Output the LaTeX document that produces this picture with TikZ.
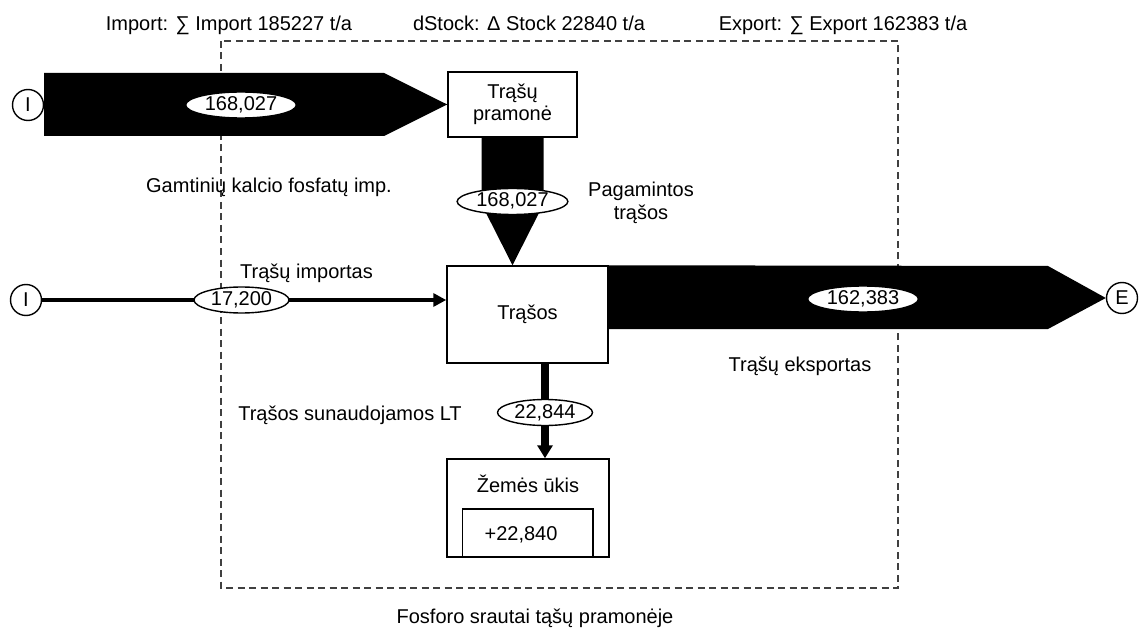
\documentclass[tikz,border=0pt]{standalone}
\usepackage{fontspec}
\setmainfont{Liberation Sans}
\usetikzlibrary{arrows.meta,shapes.geometric}
\begin{document}
\begin{tikzpicture}[x=1pt,y=-1pt,
  every node/.style={font=\fontsize{20pt}{22pt}\selectfont, text=black},
  box/.style={draw, line width=1.5pt, fill=white, inner sep=0pt},
  val/.style={ellipse, draw, line width=1.4pt, fill=white, inner xsep=3pt,
    inner ysep=0pt, text height=14pt, text depth=3pt, minimum height=26pt},
  endpt/.style={circle, draw, line width=1.4pt, fill=white, inner sep=0pt,
    minimum size=31pt},
  flow/.style={fill=black},
  lbl/.style={anchor=base},
  border/.style={dash pattern=on 7pt off 4.5pt, line width=1.5pt, draw=black!75}
]
\useasboundingbox (0,0) rectangle (1142,628);

% system boundary
\draw[border] (221,41) rectangle (898,588);

% processes
\node[box, minimum width=129pt, minimum height=65pt, align=center] (pram) at (512.5,104.5) {Trąšų\\pramonė};
\node[box, minimum width=161pt, minimum height=97pt] (tras) at (527.5,314.5) {Trąšos};
\node[box, minimum width=162pt, minimum height=98pt] (zem) at (528,508) {};
\node[lbl] (zemT) at (zem.north |- 0,492) {Žemės ūkis};
\draw[line width=1.5pt] ([xshift=16pt]zem.south west) |- (593,509) -- (593,557);
\node[lbl] (stock) at (521,540) {+22,840};

% import / export ends
\node[endpt] (I1) at (28,105) {I};
\node[endpt] (I2) at (26,300) {I};
\node[endpt] (E) at (1122,298) {E};

% wide flows
\fill[flow] (I1.east |- 0,73) -- (384,73) -- (pram.west) -- (384,136) -- (I1.east |- 0,136) -- cycle;
\fill[flow] ([xshift=-31pt]pram.south) -- (481.5,204) -- (tras.north -| pram.south) -- (543.5,204) -- ([xshift=31pt]pram.south) -- cycle;
\fill[flow] (tras.north east) -- (1048,266) -- (E.west) -- (1048,329) -- (tras.east |- 0,329) -- cycle;

% narrow flows
\draw[line width=4pt, -{Triangle[length=13pt,width=13pt]}] (I2.east) -- (I2.east -| tras.west);
\coordinate (c844) at (545,412.5);
\draw[line width=8pt, -{Triangle[length=13pt,width=15pt]}] (tras.south -| c844) -- (zem.north -| c844);

% flow values
\node[val] (v1) at (241,105) {168,027};
\node[val] (v2) at (pram.south |- 0,201.5) {168,027};
\node[val] (v3) at (241.5,300) {17,200};
\node[val] (v4) at (863,299) {162,383};
\node[val] (v5) at (c844) {22,844};

% labels
\node[lbl] (tImp) at (229,30.5) {Import: ∑ Import 185227 t/a};
\node[lbl] (tSt) at (529,30.5) {dStock: Δ Stock 22840 t/a};
\node[lbl] (tExp) at (843,30.5) {Export: ∑ Export 162383 t/a};
\node[lbl] (fGam) at (269,193) {Gamtinių kalcio fosfatų imp.};
\node[lbl] (fPag1) at (641,197) {Pagamintos};
\node[lbl] (fPag2) at (641,220) {trąšos};
\node[lbl] (fImp) at (306.5,278) {Trąšų importas};
\node[lbl] (fExp) at (800,371) {Trąšų eksportas};
\node[lbl] (fUse) at (350,420) {Trąšos sunaudojamos LT};
\node[lbl] (title) at (535,623) {Fosforo srautai tąšų pramonėje};
\end{tikzpicture}
\end{document}
